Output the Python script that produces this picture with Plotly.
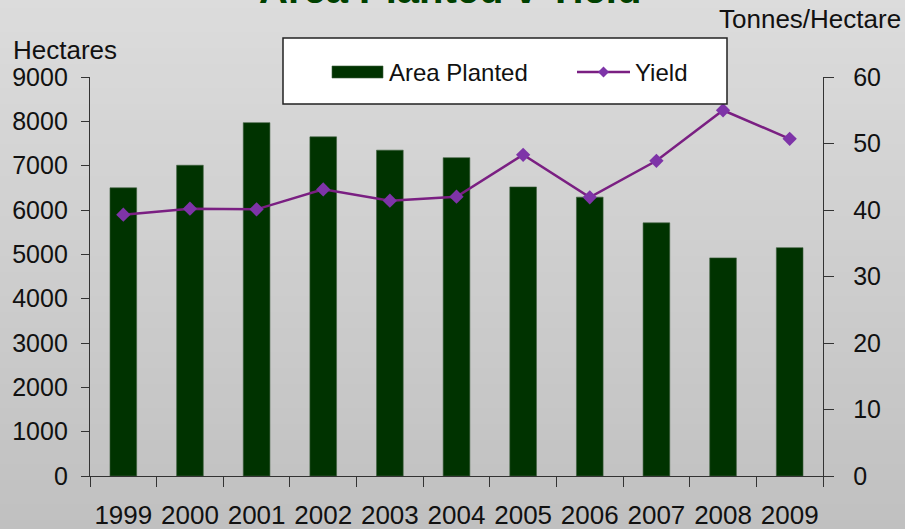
import plotly.graph_objects as go

# Data
years = ["1999", "2000", "2001", "2002", "2003", "2004", "2005", "2006", "2007", "2008", "2009"]
area_planted = [6500, 7010, 7970, 7650, 7350, 7180, 6520, 6290, 5710, 4920, 5150]
yield_t_ha = [39.3, 40.2, 40.1, 43.1, 41.4, 42.0, 48.3, 41.9, 47.4, 55.0, 50.7]

W, H = 905, 529
ML, MR, MT, MB = 90, 82, 77, 53
PW, PH = W - ML - MR, H - MT - MB

FONT = "Liberation Sans, Arial, sans-serif"
BAR_COLOR = "#003300"
LINE_COLOR = "#7a1f82"
MARKER_COLOR = "#7e34a8"


def px_x(p):
    return (p - ML) / PW


def px_y(p):
    return (H - MB - p) / PH


fig = go.Figure()

fig.add_trace(go.Bar(
    x=years, y=area_planted, name="Area Planted",
    marker=dict(color=BAR_COLOR, line=dict(color="#3d5e3d", width=0.6)),
    yaxis="y", showlegend=False,
))
fig.add_trace(go.Scatter(
    x=years, y=yield_t_ha, name="Yield", mode="lines+markers",
    line=dict(color=LINE_COLOR, width=2.5),
    marker=dict(symbol="diamond", size=11, color=MARKER_COLOR),
    yaxis="y2", showlegend=False,
))

shapes = []

# vertical grey gradient behind everything
top_c, bot_c = (220, 220, 220), (192, 192, 192)
step = 8
for p in range(0, H, step):
    t = (p + step / 2) / H
    c = tuple(round(a + (b - a) * t) for a, b in zip(top_c, bot_c))
    shapes.append(dict(
        type="rect", xref="paper", yref="paper", layer="below",
        x0=px_x(-2), x1=px_x(W + 2), y0=px_y(p + step + 1), y1=px_y(p),
        line=dict(width=0), fillcolor=f"rgb{c}",
    ))

# legend box
shapes.append(dict(
    type="rect", xref="paper", yref="paper", layer="above",
    x0=px_x(283), x1=px_x(727), y0=px_y(104), y1=px_y(38),
    line=dict(color="#222222", width=1.5), fillcolor="white",
))
# bar swatch
shapes.append(dict(
    type="rect", xref="paper", yref="paper", layer="above",
    x0=px_x(332), x1=px_x(383), y0=px_y(78), y1=px_y(66),
    line=dict(color="#3d5e3d", width=0.6), fillcolor=BAR_COLOR,
))
# line swatch
shapes.append(dict(
    type="line", xref="paper", yref="paper", layer="above",
    x0=px_x(577), x1=px_x(630), y0=px_y(72), y1=px_y(72),
    line=dict(color=LINE_COLOR, width=2.5),
))
cx, cy, r = 603.5, 72, 5.5
shapes.append(dict(
    type="path", xref="paper", yref="paper", layer="above",
    path=(f"M {px_x(cx - r)} {px_y(cy)} L {px_x(cx)} {px_y(cy - r)} "
          f"L {px_x(cx + r)} {px_y(cy)} L {px_x(cx)} {px_y(cy + r)} Z"),
    line=dict(width=0), fillcolor=MARKER_COLOR,
))

annotations = [
    dict(text="<b>Area Planted v Yield</b>", xref="paper", yref="paper",
         x=px_x(450), y=px_y(-11), xanchor="center", yanchor="middle",
         showarrow=False, font=dict(family=FONT, size=40, color="#004000")),
    dict(text="Hectares", xref="paper", yref="paper",
         x=px_x(11), y=px_y(50), xanchor="left", yanchor="middle",
         showarrow=False, font=dict(family=FONT, size=26, color="#111111")),
    dict(text="Tonnes/Hectare", xref="paper", yref="paper",
         x=px_x(903), y=px_y(19), xanchor="right", yanchor="middle",
         showarrow=False, font=dict(family=FONT, size=26, color="#111111")),
    dict(text="Area Planted", xref="paper", yref="paper",
         x=px_x(387), y=px_y(72), xanchor="left", yanchor="middle",
         showarrow=False, font=dict(family=FONT, size=24, color="#111111")),
    dict(text="Yield", xref="paper", yref="paper",
         x=px_x(633), y=px_y(72), xanchor="left", yanchor="middle",
         showarrow=False, font=dict(family=FONT, size=24, color="#111111")),
]

axis_common = dict(
    showgrid=False, zeroline=False, showline=True, automargin=False,
    linecolor="#333333", linewidth=1.3,
    ticks="outside", tickcolor="#333333", tickwidth=1.3,
    tickfont=dict(family=FONT, size=25, color="#111111"),
)

fig.update_layout(
    width=W, height=H,
    margin=dict(l=ML, r=MR, t=MT, b=MB, pad=0, autoexpand=False),
    paper_bgcolor="rgb(205,205,205)",
    plot_bgcolor="rgba(0,0,0,0)",
    bargap=0.6,
    showlegend=False,
    shapes=shapes,
    annotations=annotations,
    xaxis=dict(
        type="category", range=[-0.5, len(years) - 0.5],
        tickson="boundaries", ticklen=10, tickangle=0,
        **{**axis_common, "tickfont": dict(family=FONT, size=26, color="#111111")},
        ticklabelstandoff=16,
    ),
    yaxis=dict(range=[0, 9000], dtick=1000, ticklen=8,
               ticklabelstandoff=8, **axis_common),
    yaxis2=dict(range=[0, 60], dtick=10, ticklen=10, overlaying="y",
                side="right", ticklabelstandoff=14, **axis_common),
)

fig.write_html("out.html")
